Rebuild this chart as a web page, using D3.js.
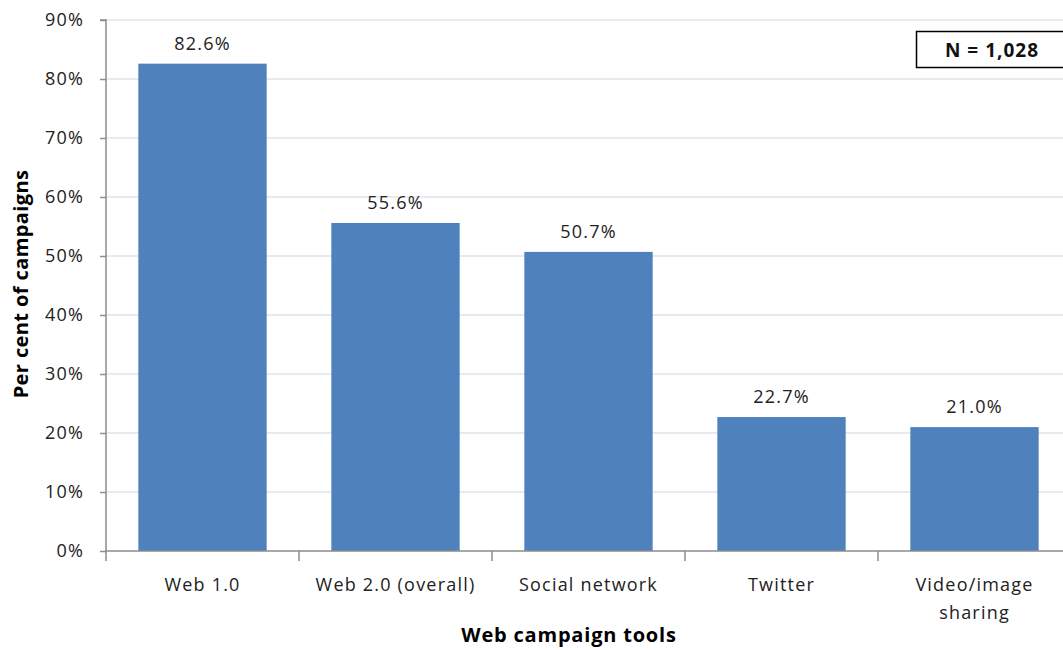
<!DOCTYPE html>
<html><head><meta charset="utf-8">
<script src="https://cdn.jsdelivr.net/npm/d3@7"></script>
<style>body{margin:0;background:#fff}svg{display:block}</style>
</head><body>
<svg id="c" width="1063" height="650"></svg>
<script>
const categories = ["Web 1.0", "Web 2.0 (overall)", "Social network", "Twitter", "Video/image|sharing"];
const values = [82.6, 55.6, 50.7, 22.7, 21.0];
const yTicks = [0, 10, 20, 30, 40, 50, 60, 70, 80, 90];
const yTitle = "Per cent of campaigns";
const xTitle = "Web campaign tools";
const note = "N = 1,028";

const svg = d3.select("#c");
const pL = 106, pR = 1071, pT = 20, pB = 551;
const x = d3.scaleBand().domain(categories).range([pL, pR]).paddingInner(0.335).paddingOuter(0.1675);
const y = d3.scaleLinear().domain([0, 90]).range([pB, pT]);
const font = "'Open Sans', sans-serif";
const fs = 18, ls = "1.2px";

// grid
svg.append("g").selectAll("line").data(yTicks.filter(d => d > 0)).join("line")
  .attr("x1", pL).attr("x2", 1063).attr("y1", d => y(d)).attr("y2", d => y(d))
  .attr("stroke", "#dfe3ec").attr("stroke-width", 1.5);

// bars
svg.append("g").selectAll("rect").data(values).join("rect")
  .attr("x", (d, i) => x(categories[i])).attr("width", x.bandwidth())
  .attr("y", d => y(d)).attr("height", d => pB - y(d))
  .attr("fill", "#4f81bd");

// value labels
svg.append("g").selectAll("text").data(values).join("text")
  .attr("x", (d, i) => x(categories[i]) + x.bandwidth() / 2)
  .attr("y", d => y(d) - 14)
  .attr("text-anchor", "middle").attr("font-family", font).attr("font-size", fs)
  .attr("letter-spacing", ls).attr("fill", "#222")
  .text(d => d.toFixed(1) + "%");

// y axis
const ya = d3.axisLeft(y).tickValues(yTicks).tickFormat(d => d + "%").tickSize(6).tickPadding(16);
const gy = svg.append("g").attr("transform", `translate(${pL},0)`).call(ya);
gy.select(".domain").attr("stroke", "#8c8c8c").attr("stroke-width", 1.5).attr("d", `M-6,${pT}H0V${pB}`);
gy.selectAll(".tick line").attr("stroke", "#8c8c8c").attr("stroke-width", 1.5);
gy.selectAll(".tick text").attr("font-family", font).attr("font-size", fs).attr("fill", "#222").attr("letter-spacing", ls);

// x axis
const xa = d3.axisBottom(x).tickSize(0).tickPadding(0).tickFormat("");
const gx = svg.append("g").attr("transform", `translate(0,${pB})`).call(xa);
gx.select(".domain").attr("stroke", "#8c8c8c").attr("stroke-width", 1.5).attr("d", `M${pL},10V0H1063`);
const step = x.step();
gx.selectAll(".tick line").remove();
gx.append("g").selectAll("line").data(categories.slice(1)).join("line")
  .attr("x1", d => x(d) - step * x.paddingInner() / 2).attr("x2", d => x(d) - step * x.paddingInner() / 2)
  .attr("y1", 0).attr("y2", 10).attr("stroke", "#8c8c8c").attr("stroke-width", 1.5);
gx.selectAll(".tick text").remove();
gx.selectAll(".tick").append("text")
  .attr("font-family", font).attr("font-size", fs).attr("fill", "#222").attr("letter-spacing", ls)
  .attr("text-anchor", "middle")
  .each(function(d) {
    const parts = d.split("|");
    d3.select(this).selectAll("tspan").data(parts).join("tspan")
      .attr("x", 0).attr("y", (p, i) => 40 + i * 28).text(p => p);
  });

// titles
svg.append("text").attr("transform", `translate(28,${284}) rotate(-90)`)
  .attr("text-anchor", "middle").attr("font-family", font).attr("font-weight", "bold")
  .attr("font-size", 20).attr("letter-spacing", "0.4px").attr("fill", "#000").text(yTitle);
svg.append("text").attr("x", 569).attr("y", 642).attr("text-anchor", "middle")
  .attr("font-family", font).attr("font-weight", "bold").attr("font-size", 20).attr("letter-spacing", "0.8px")
  .attr("fill", "#000").text(xTitle);

// note box
svg.append("rect").attr("x", 916.5).attr("y", 31.5).attr("width", 160).attr("height", 36)
  .attr("fill", "#fff").attr("stroke", "#000").attr("stroke-width", 1.5);
svg.append("text").attr("x", 992).attr("y", 57).attr("text-anchor", "middle")
  .attr("font-family", font).attr("font-weight", "bold").attr("font-size", 19).attr("letter-spacing", "1px")
  .attr("fill", "#111").text(note);
</script>
</body></html>
